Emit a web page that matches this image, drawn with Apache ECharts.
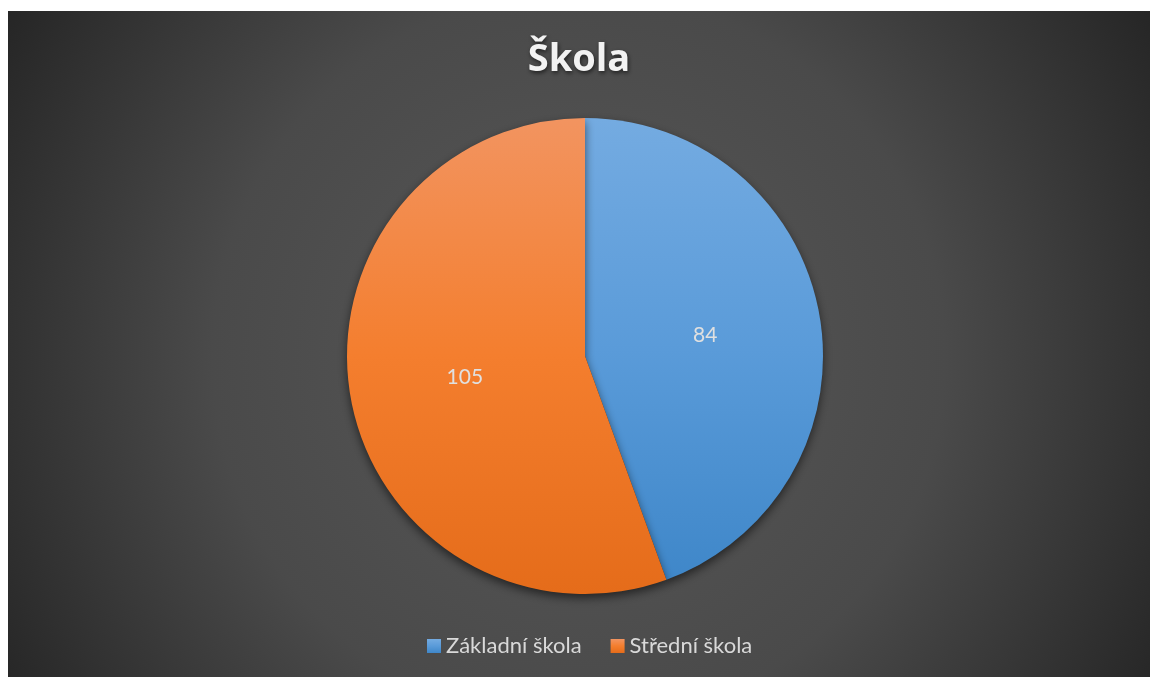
<!DOCTYPE html>
<html>
<head>
<meta charset="utf-8">
<script src="https://cdn.jsdelivr.net/npm/echarts@6/dist/echarts.min.js"></script>
<style>
  html, body { margin: 0; padding: 0; background: #fff; }
  #chart { position: absolute; left: 8px; top: 11px; width: 1142px; height: 666px; }
</style>
</head>
<body>
<div id="chart"></div>
<script>
const categories = ['Základní škola', 'Střední škola']
const values = [84, 105]
const colorTops = ['#74abe1', '#f29460']
const colorMids = ['#5a9bd9', '#f47e2e']
const colorBottoms = ['#3f87c9', '#e56c1a']

const chart = echarts.init(document.getElementById('chart'))

const option = {
  backgroundColor: {
    type: 'radial',
    x: 0.5,
    y: 0.52,
    r: 1,
    colorStops: [
      { offset: 0, color: '#585858' },
      { offset: 0.55, color: '#4a4a4a' },
      { offset: 1, color: '#262626' }
    ]
  },
  title: {
    text: 'Škola',
    left: 'center',
    top: 25,
    textStyle: {
      color: '#f2f2f2',
      fontFamily: 'Open Sans',
      fontWeight: 'bold',
      fontSize: 38,
      textShadowColor: 'rgba(0,0,0,0.6)',
      textShadowBlur: 4,
      textShadowOffsetX: 1,
      textShadowOffsetY: 2
    }
  },
  legend: {
    bottom: 15,
    left: 414,
    itemWidth: 14,
    itemHeight: 14,
    itemGap: 29,
    icon: 'rect',
    textStyle: {
      color: '#d9d9d9',
      fontFamily: 'Lato',
      fontSize: 22
    },
    data: categories
  },
  series: [
    {
      type: 'pie',
      center: [577, 345],
      radius: 238,
      startAngle: 90,
      clockwise: true,
      animation: false,
      label: {
        show: true,
        position: 'inside',
        formatter: '{c}',
        color: '#e0e0e0',
        fontFamily: 'Lato',
        fontSize: 21
      },
      labelLine: { show: false },
      itemStyle: {
        borderWidth: 0,
        shadowBlur: 10,
        shadowOffsetY: 4,
        shadowColor: 'rgba(0,0,0,0.55)'
      },
      emphasis: { disabled: true },
      data: categories.map((name, i) => ({
        name: name,
        value: values[i],
        itemStyle: {
          color: {
            type: 'linear',
            x: 0, y: 0, x2: 0, y2: 1,
            colorStops: [
              { offset: 0, color: colorTops[i] },
              { offset: 0.5, color: colorMids[i] },
              { offset: 1, color: colorBottoms[i] }
            ]
          }
        }
      }))
    }
  ]
}

chart.setOption(option)
</script>
</body>
</html>
